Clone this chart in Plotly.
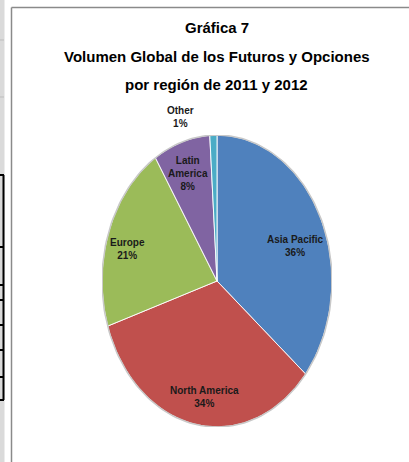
import numpy as np
import plotly.graph_objects as go

# ---- data ----
regions = ["Asia Pacific", "North America", "Europe", "Latin America", "Other"]
label_text = ["Asia Pacific", "North America", "Europe", "Latin<br>America", "Other"]
shares = [36, 34, 21, 8, 1]
colors = ["#4F81BD", "#C0504D", "#9BBB59", "#8064A2", "#4BACC6"]
title_lines = ["Gráfica 7", "Volumen Global de los Futuros y Opciones", "por región de 2011 y 2012"]

W, H = 409, 462
def px(x): return x / W
def py(y): return 1 - y / H

# pie placement (pixels)
cx, cy, rx, ry = 217, 281, 115, 146
FONT = "Liberation Sans, Arial, sans-serif"

fig = go.Figure()

total = sum(shares)
start = 0.0
mids = []
for name, val, col in zip(regions, shares, colors):
    a0 = start / total * 2 * np.pi
    a1 = (start + val) / total * 2 * np.pi
    t = np.linspace(a0, a1, max(8, int(val * 4)))
    xs = np.concatenate([[0], np.sin(t), [0]])
    ys = np.concatenate([[0], np.cos(t), [0]])
    fig.add_trace(go.Scatter(x=xs, y=ys, fill="toself", fillcolor=col, mode="lines",
                             line=dict(color="rgba(255,255,255,0.9)", width=1),
                             name=name, hoverinfo="name", showlegend=False))
    mids.append((a0 + a1) / 2)
    start += val

# outer rim
tt = np.linspace(0, 2 * np.pi, 200)
fig.add_trace(go.Scatter(x=np.sin(tt), y=np.cos(tt), mode="lines",
                         line=dict(color="#C8C8C8", width=1.5), hoverinfo="skip", showlegend=False))

# label placement: radius and angle tweak (degrees)
label_pos = [(0.72, 6), (0.80, -3), (0.81, -4), (0.78, -1), (1.17, -14)]
for txt, val, mid, (r, d) in zip(label_text, shares, mids, label_pos):
    a = mid + np.radians(d)
    lx = cx + rx * r * np.sin(a)
    ly = cy - ry * r * np.cos(a)
    fig.add_annotation(x=px(lx), y=py(ly), xref="paper", yref="paper",
                       xanchor="center", yanchor="middle",
                       text=f"<b>{txt}<br>{val}%</b>", showarrow=False,
                       font=dict(family=FONT, size=10, color="#1a1a1a"))

# title
for line, yy in zip(title_lines, [28, 57, 84]):
    fig.add_annotation(x=px(217), y=py(yy), xref="paper", yref="paper", text=f"<b>{line}</b>",
                       xanchor="center", yanchor="middle",
                       showarrow=False, font=dict(family=FONT, size=15, color="#000"))

shapes = []
# spreadsheet background decorations
shapes.append(dict(type="rect", xref="paper", yref="paper", x0=px(0), x1=px(4.5), y0=0, y1=1,
                   fillcolor="#DADADA", line=dict(width=0), layer="below"))
for yy in [40, 97]:
    shapes.append(dict(type="line", xref="paper", yref="paper", x0=0, x1=px(4), y0=py(yy), y1=py(yy),
                       line=dict(color="#BDBDBD", width=1)))
for yy in [175, 247, 285, 300, 325, 350, 377, 400]:
    shapes.append(dict(type="line", xref="paper", yref="paper", x0=0, x1=px(4), y0=py(yy), y1=py(yy),
                       line=dict(color="#000", width=2)))
shapes.append(dict(type="line", xref="paper", yref="paper", x0=px(3.5), x1=px(3.5), y0=py(175), y1=py(400),
                   line=dict(color="#000", width=2)))
# chart frame
shapes.append(dict(type="line", xref="paper", yref="paper", x0=px(11.5), x1=px(11.5), y0=py(7.5), y1=0,
                   line=dict(color="#8A8A8A", width=1.5)))
shapes.append(dict(type="line", xref="paper", yref="paper", x0=px(11.5), x1=1, y0=py(7.5), y1=py(7.5),
                   line=dict(color="#8A8A8A", width=1.5)))

fig.update_layout(
    width=W, height=H, margin=dict(l=0, r=0, t=0, b=0),
    paper_bgcolor="white", plot_bgcolor="rgba(0,0,0,0)",
    shapes=shapes,
    xaxis=dict(range=[-1, 1], domain=[px(cx - rx), px(cx + rx)], visible=False, fixedrange=True),
    yaxis=dict(range=[-1, 1], domain=[py(cy + ry), py(cy - ry)], visible=False, fixedrange=True),
)

fig.write_html("out.html")
